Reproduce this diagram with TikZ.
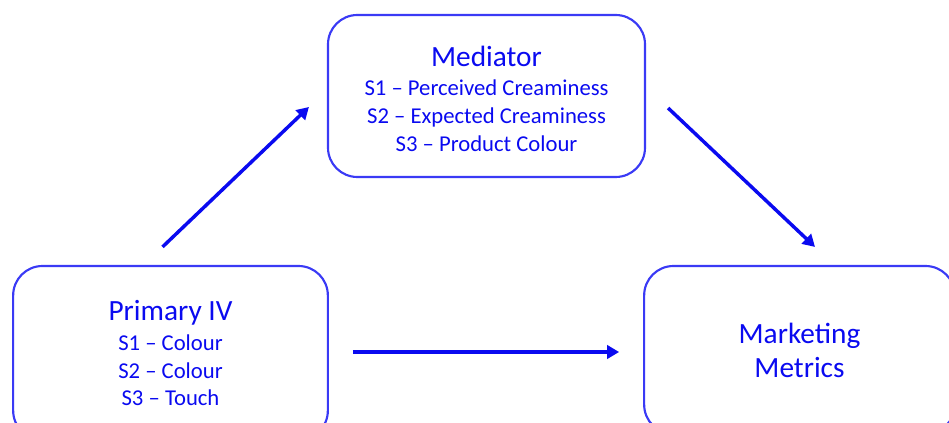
\documentclass[tikz,border=0pt]{standalone}
\usepackage{fontspec}
\setmainfont{Carlito}
\usepackage{tikz}
\usetikzlibrary{arrows.meta, positioning, calc}
\definecolor{medBlue}{HTML}{0A0AF0}
\definecolor{medEdge}{HTML}{3A3AF5}

\begin{document}
\begin{tikzpicture}[x=0.75pt, y=-0.75pt,
    varbox/.style={draw=medEdge, line width=1.6pt, rounded corners=22pt,
      text=medBlue, align=center, inner sep=0pt,
      font=\fontsize{17}{20.6}\selectfont},
    link/.style={draw=medBlue, line width=2.6pt, -{Triangle[length=9pt, width=10pt]}}]
  \useasboundingbox (0,0) rectangle (949,423);

  \node[varbox, minimum width=236pt, minimum height=130.5pt] (prim) at (170.5,353) {
    {\fontsize{22}{23}\selectfont Primary IV}\\[2pt]
    S1 -- Colour\\
    S2 -- Colour\\
    S3 -- Touch
  };
  \node[varbox, minimum width=237.75pt, minimum height=121.5pt,
        font=\fontsize{17}{21}\selectfont] (med) at (486.5,96) {
    \rule{0pt}{20pt}{\fontsize{22}{23}\selectfont Mediator}\\[0.5pt]
    S1 -- Perceived Creaminess\\
    S2 -- Expected Creaminess\\
    S3 -- Product Colour
  };
  \node[varbox, minimum width=233pt, minimum height=126pt,
        font=\fontsize{22}{25.5}\selectfont] (mm) at (799.5,350) {
    Marketing\\
    Metrics
  };

  \draw[link] ($(prim.north)+(-8,-18)$) -- ($(med.west)+(-18,11)$);
  \draw[link] ($(med.east)+(22,12)$) -- ($(mm.north)+(15.5,-18)$);
  \draw[link] ($(prim.east)+(24,-1)$) -- ($(mm.west)+(-24,2)$);
\end{tikzpicture}
\end{document}
